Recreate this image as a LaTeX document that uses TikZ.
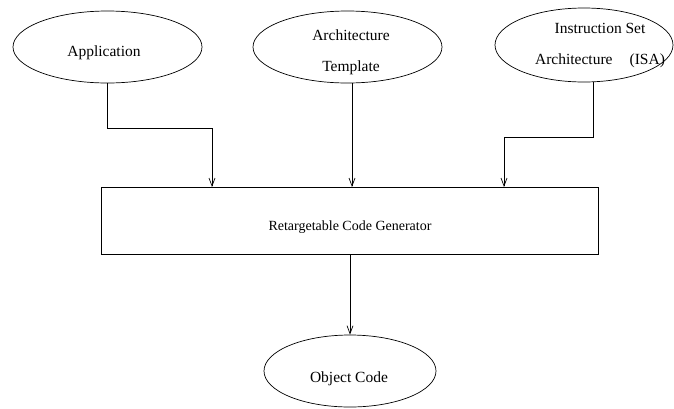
\documentclass[tikz,border=0pt]{standalone}
\usepackage{fontspec}
\setmainfont{Liberation Serif}
\usetikzlibrary{shapes.geometric,arrows.meta}
\begin{document}
\begin{tikzpicture}[x=1pt,y=-1pt,
  label/.style={font=\fontsize{15.5}{31}\selectfont,inner sep=0pt,align=center},
  oval/.style={draw,ellipse,line width=0.7pt,inner sep=0pt,minimum width=#1,minimum height=72pt},
  genbox/.style={draw,line width=0.7pt,inner sep=0pt,minimum width=497pt,minimum height=67pt},
  flow/.style={line width=0.7pt,-{Straight Barb[length=8pt,width=6pt]}}]
\useasboundingbox (0,0) rectangle (674,408);
% input ovals
\node[oval=189pt] (app) at (107.5,47) {};
\node[oval=189pt] (tmpl) at (347.5,47) {};
\node[oval=178pt,minimum height=74pt] (isa) at (584,45) {};
% generator box and output oval
\node[genbox] (gen) at (349.5,220.5) {};
\node[oval=172pt] (obj) at (350,371) {};
% texts
\node[label] (apptxt) at (104,52.5) {Application};
\node[label] (tmpltxt) at (351,52.5) {Architecture\\Template};
\node[label] (isatxt) at (600,45.5) {Instruction Set\\Architecture\hspace{1.1em}(ISA)};
\node[label,font=\fontsize{14}{28}\selectfont] (gentxt) at (350,227) {Retargetable Code Generator};
\node[label] (objtxt) at (349,379) {Object Code};
% connectors
\coordinate (appin) at (212,187);
\coordinate (tmplin) at (352,187);
\coordinate (isain) at (504,187);
\draw[flow] (app.south) |- (212,128) -- (appin);
\draw[flow] (tmpl.south -| tmplin) -- (tmplin);
\draw[flow] (593,82) |- (504,137) -- (isain);
\draw[flow] (gen.south -| obj.north) -- (obj.north);
\end{tikzpicture}
\end{document}
